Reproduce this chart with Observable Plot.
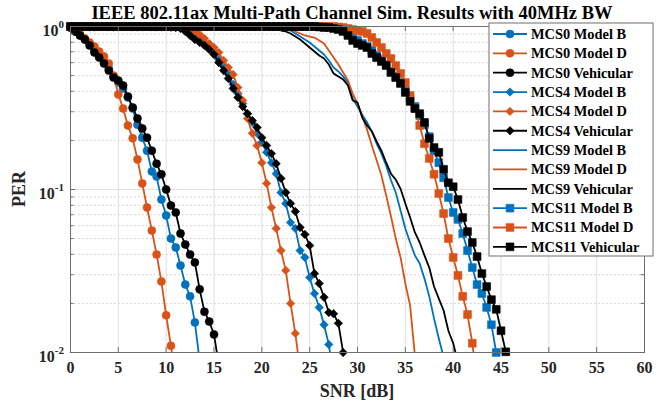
<!DOCTYPE html>
<html><head><meta charset="utf-8">
<script src="https://cdn.jsdelivr.net/npm/d3@7"></script>
<script src="https://cdn.jsdelivr.net/npm/@observablehq/plot@0.6"></script>
<style>html,body{margin:0;padding:0;background:#fff;}</style>
</head><body><div id="chart"></div>
<script>
// ---------- data ----------
const snr = [0,0.5,1,1.5,2,2.5,3,3.5,4,4.5,5,5.5,6,6.5,7,7.5,8,8.5,9,9.5,10,10.5,11,11.5,12,12.5,13,13.5,14,14.5,15,15.5,16,16.5,17,17.5,18,18.5,19,19.5,20,20.5,21,21.5,22,22.5,23,23.5,24,24.5,25,25.5,26,26.5,27,27.5,28,28.5,29,29.5,30,30.5,31,31.5,32,32.5,33,33.5,34,34.5,35,35.5,36,36.5,37,37.5,38,38.5,39,39.5,40,40.5,41,41.5,42,42.5,43,43.5,44,44.5,45,45.5,46];

const mcs0ModelB = [0.986,0.932,0.881,0.832,0.775,0.712,0.664,0.610,0.553,0.493,0.453,0.417,0.367,0.314,0.250,0.208,0.173,0.129,0.120,0.0868,0.0693,0.0500,0.0441,0.0342,0.0261,0.0221,0.0153,0.0089];
const mcs0ModelD = [0.986,0.945,0.893,0.844,0.798,0.754,0.702,0.655,0.593,0.500,0.383,0.314,0.247,0.206,0.153,0.109,0.0775,0.0560,0.0399,0.0273,0.0169,0.0110,0.0067];
const mcs0Vehicular = [0.986,0.932,0.881,0.832,0.765,0.693,0.645,0.593,0.537,0.486,0.466,0.435,0.372,0.319,0.273,0.237,0.208,0.173,0.144,0.124,0.100,0.0798,0.0723,0.0537,0.0460,0.0399,0.0357,0.0244,0.0178,0.0155,0.0129,0.0084];

const mcs4ModelB = [1,1,1,1,1,1,1,1,1,1,1,1,1,1,1,1,1,1,1,1,1,0.993,0.993,0.986,
  0.972,0.932,0.881,0.832,0.775,0.733,0.683,0.627,0.568,0.508,0.441,0.388,0.337,0.292,0.258,0.221,0.194,0.169,0.146,0.125,0.0958,0.0821,0.0627,0.0576,0.0422,0.0383,0.0288,0.0230,0.0189,0.0148,0.0112,0.0072];
const mcs4ModelD = [1,1,1,1,1,1,1,1,1,1,1,1,1,1,1,1,1,1,1,1,1,0.993,0.993,0.986,
  0.986,0.958,0.932,0.893,0.844,0.786,0.743,0.693,0.619,0.560,0.508,0.422,0.352,0.273,0.221,0.186,0.146,0.109,0.0775,0.0576,0.0422,0.0319,0.0200,0.0131,0.0078];
const mcs4Vehicular = [1,1,1,1,1,1,1,1,1,1,1,1,1,1,1,1,1,1,1,1,1,0.993,0.986,0.972,
  0.932,0.881,0.832,0.798,0.765,0.723,0.673,0.601,0.537,0.480,0.417,0.367,0.323,0.292,0.265,0.240,0.208,0.186,0.166,0.144,0.117,0.0958,0.0821,0.0733,0.0585,0.0530,0.0453,0.0305,0.0265,0.0218,0.0176,0.0173,0.0151,0.0100];

const mcs9ModelB = [1,1,1,1,1,1,1,1,1,1,1,1,1,1,1,1,1,1,1,1,1,1,1,1,1,1,1,1,1,1,1,1,1,1,1,1,1,1,1,1,
  0.993,0.990,0.986,0.979,0.972,0.958,0.945,0.906,0.868,0.832,0.798,0.754,0.712,0.673,0.619,0.560,0.530,0.493,0.453,0.362,0.323,0.288,0.258,0.227,0.191,0.166,0.140,0.114,0.0958,0.0743,0.0576,0.0473,0.0394,0.0352,0.0284,0.0221,0.0162,0.0122,0.0094];
const mcs9ModelD = [1,1,1,1,1,1,1,1,1,1,1,1,1,1,1,1,1,1,1,1,1,1,1,1,1,1,1,1,1,1,1,1,1,1,1,1,1,1,1,1,
  0.993,0.990,0.986,0.983,0.979,0.972,0.958,0.932,0.906,0.881,0.868,0.856,0.821,0.786,0.712,0.645,0.585,0.522,0.466,0.388,0.337,0.280,0.233,0.186,0.151,0.122,0.0919,0.0683,0.0500,0.0383,0.0265,0.0194,0.0096];
const mcs9Vehicular = [1,1,1,1,1,1,1,1,1,1,1,1,1,1,1,1,1,1,1,1,1,1,1,1,1,1,1,1,1,1,1,1,1,1,1,1,1,1,1,1,
  0.993,0.990,0.979,0.965,0.945,0.932,0.906,0.868,0.832,0.786,0.743,0.702,0.664,0.636,0.585,0.515,0.493,0.473,0.435,0.352,0.342,0.276,0.247,0.227,0.197,0.173,0.146,0.125,0.115,0.101,0.0821,0.0673,0.0545,0.0473,0.0394,0.0332,0.0254,0.0214,0.0181,0.0136,0.0114,0.0087];

const mcs11ModelB = [1,1,1,1,1,1,1,1,1,1,1,1,1,1,1,1,1,1,1,1,1,1,1,1,1,1,1,1,1,1,1,1,1,1,1,1,1,1,1,1,1,1,1,1,1,1,1,1,1,1,1,1,1,1,
  0.993,0.986,
  0.972,0.945,0.906,0.856,0.821,0.786,0.754,0.712,0.664,0.627,0.585,0.530,0.493,0.453,0.405,0.362,0.323,0.284,0.250,0.211,0.173,0.146,0.118,0.0893,0.0723,0.0655,0.0537,0.0422,0.0332,0.0261,0.0230,0.0189,0.0148,0.0100];
const mcs11ModelD = [1,1,1,1,1,1,1,1,1,1,1,1,1,1,1,1,1,1,1,1,1,1,1,1,1,1,1,1,1,1,1,1,1,1,1,1,1,1,1,1,1,1,1,1,1,1,1,1,1,1,1,1,1,1,1,1,
  0.993,0.986,
  0.972,0.958,0.945,0.932,0.906,0.856,0.798,0.743,0.683,0.636,0.576,0.515,0.453,0.377,0.314,0.247,0.191,0.155,0.124,0.0945,0.0712,0.0500,0.0383,0.0297,0.0221,0.0171,0.0114,0.0067];
const mcs11Vehicular = [1,1,1,1,1,1,1,1,1,1,1,1,1,1,1,1,1,1,1,1,1,1,1,1,1,1,1,1,1,1,1,1,1,1,1,1,1,1,1,1,1,1,1,1,1,1,1,1,1,1,1,1,
  0.993,0.986,0.986,0.972,0.958,0.932,0.881,0.821,0.786,0.765,0.743,0.683,0.645,0.610,0.576,0.522,0.486,0.447,0.394,0.347,0.314,0.292,0.258,0.206,0.181,0.169,0.133,0.110,0.104,0.0868,0.0673,0.0552,0.0473,0.0388,0.0305,0.0254,0.0211,0.0184,0.0136,0.0101];

const seriesNames = ["MCS0 Model B","MCS0 Model D","MCS0 Vehicular","MCS4 Model B","MCS4 Model D","MCS4 Vehicular","MCS9 Model B","MCS9 Model D","MCS9 Vehicular","MCS11 Model B","MCS11 Model D","MCS11 Vehicular"];
const xTicks = [0,5,10,15,20,25,30,35,40,45,50,55,60];
const yMajorTicks = [1, 0.1, 0.01];
const yTickExponents = ["0", "-1", "-2"];
const yMinorTicks = [0.02,0.03,0.04,0.05,0.06,0.07,0.08,0.09,0.2,0.3,0.4,0.5,0.6,0.7,0.8,0.9];
const titleText = "IEEE 802.11ax Multi-Path Channel Sim. Results with 40MHz BW";
const xLabel = "SNR [dB]";
const yLabel = "PER";

// ---------- styling ----------
const BLUE = "#0072BD", ORANGE = "#D95319", BLACK = "#000000";
const series = [
  {values: mcs0ModelB, color: BLUE, symbol: "circle", r: 4},
  {values: mcs0ModelD, color: ORANGE, symbol: "circle", r: 4},
  {values: mcs0Vehicular, color: BLACK, symbol: "circle", r: 4},
  {values: mcs4ModelB, color: BLUE, symbol: "diamond2", r: 3.8},
  {values: mcs4ModelD, color: ORANGE, symbol: "diamond2", r: 3.8},
  {values: mcs4Vehicular, color: BLACK, symbol: "diamond2", r: 3.8},
  {values: mcs9ModelB, color: BLUE, symbol: null},
  {values: mcs9ModelD, color: ORANGE, symbol: null},
  {values: mcs9Vehicular, color: BLACK, symbol: null},
  {values: mcs11ModelB, color: BLUE, symbol: "square", r: 4.4},
  {values: mcs11ModelD, color: ORANGE, symbol: "square", r: 4.4},
  {values: mcs11Vehicular, color: BLACK, symbol: "square", r: 4.4}
].map((s, i) => ({...s, name: seriesNames[i]}));

const W = 663, H = 405, mL = 70, mR = 19, mT = 26, mB = 53;
const plotW = W - mL - mR, plotH = H - mT - mB;
const axisColor = "#6e6e6e";
const FONT = '"Liberation Serif", "Times New Roman", Times, serif';

const marks = [
  Plot.ruleX(xTicks.slice(1, -1), {stroke: "#e0e0e0", strokeWidth: 1}),
  Plot.ruleY(yMinorTicks, {stroke: "#c8c8c8", strokeDasharray: "1.5,2.5", strokeWidth: 1}),
  Plot.ruleY([0.1], {stroke: "#e0e0e0", strokeWidth: 1})
];
for (const s of series) {
  const d = s.values.map((per, i) => ({snr: snr[i], per}));
  marks.push(Plot.line(d, {x: "snr", y: "per", stroke: s.color, strokeWidth: 1.8, clip: true}));
  if (s.symbol) {
    marks.push(Plot.dot(d.filter(p => p.per >= 0.0099), {
      x: "snr", y: "per", symbol: s.symbol, r: s.r, fill: s.color, stroke: s.color, strokeWidth: 0.6
    }));
  }
}
marks.push(
  Plot.frame({stroke: axisColor, strokeWidth: 1}),
  Plot.ruleX(xTicks, {stroke: axisColor, insetTop: plotH - 5}),
  Plot.ruleX(xTicks, {stroke: axisColor, insetBottom: plotH - 5}),
  Plot.ruleY(yMajorTicks, {stroke: axisColor, insetRight: plotW - 5}),
  Plot.ruleY(yMajorTicks, {stroke: axisColor, insetLeft: plotW - 5}),
  Plot.ruleY(yMinorTicks, {stroke: axisColor, insetRight: plotW - 3.5}),
  Plot.ruleY(yMinorTicks, {stroke: axisColor, insetLeft: plotW - 3.5}),
  Plot.axisX({ticks: xTicks, tickSize: 0, tickPadding: 9, label: null, fill: "#262626"})
);

const chart = Plot.plot({
  width: W, height: H,
  marginLeft: mL, marginRight: mR, marginTop: mT, marginBottom: mB,
  x: {domain: [0, 60], label: null},
  y: {type: "log", domain: [0.01, 1], axis: null, label: null},
  style: {fontFamily: FONT, fontSize: "16px", fontWeight: "bold", color: "#262626", background: "#fff", overflow: "visible"},
  marks
});
document.getElementById("chart").appendChild(chart);

const svg = d3.select(chart);
const yScale = chart.scale("y");
const xScale = chart.scale("x");

// y tick labels 10^k
yMajorTicks.forEach((v, i) => {
  const t = svg.append("text")
    .attr("x", mL - 6).attr("y", yScale.apply(v) + 9.5)
    .attr("text-anchor", "end").attr("fill", "#262626")
    .style("font-family", FONT).style("font-size", "16px").style("font-weight", "bold");
  t.append("tspan").text("10");
  t.append("tspan").attr("dy", -8).style("font-size", "11px").text(yTickExponents[i]);
});

// title and axis labels
const xMid = (xScale.apply(0) + xScale.apply(60)) / 2;
svg.append("text").attr("x", xMid - 5).attr("y", 19).attr("text-anchor", "middle")
  .attr("fill", "#000").style("font-family", FONT).style("font-size", "18.5px").style("font-weight", "bold")
  .text(titleText);
svg.append("text").attr("x", xMid).attr("y", 397).attr("text-anchor", "middle")
  .attr("fill", "#262626").style("font-family", FONT).style("font-size", "18px").style("font-weight", "bold")
  .text(xLabel);
svg.append("text").attr("transform", `translate(25,${(yScale.apply(1) + yScale.apply(0.01)) / 2}) rotate(-90)`)
  .attr("text-anchor", "middle").attr("fill", "#262626")
  .style("font-family", FONT).style("font-size", "18px").style("font-weight", "bold")
  .text(yLabel);

// legend (inside, north-east)
const symbolMap = {circle: d3.symbolCircle, diamond2: d3.symbolDiamond2, square: d3.symbolSquare};
const lg = svg.append("g").attr("text-anchor", "start");
const lgX = 489, lgY = 23, lgW = 164, lgH = 233, rowH = 19.35, row0 = 34;
lg.append("rect").attr("x", lgX).attr("y", lgY).attr("width", lgW).attr("height", lgH)
  .style("fill", "#ffffff").style("stroke", axisColor).style("stroke-width", "1px");
series.forEach((s, i) => {
  const cy = row0 + i * rowH;
  lg.append("line").attr("x1", lgX + 4).attr("x2", lgX + 38).attr("y1", cy).attr("y2", cy)
    .style("stroke", s.color).style("stroke-width", "1.8px");
  if (s.symbol) {
    lg.append("path").attr("d", d3.symbol(symbolMap[s.symbol], Math.PI * s.r * s.r)())
      .attr("transform", `translate(${lgX + 21},${cy})`)
      .style("fill", s.color).style("stroke", s.color).style("stroke-width", "0.6px");
  }
  lg.append("text").attr("x", lgX + 42).attr("y", cy + 4.8)
    .attr("text-anchor", "start").style("fill", "#000")
    .style("font-family", FONT).style("font-size", "14.4px").style("font-weight", "bold")
    .text(s.name);
});
</script>
</body></html>
